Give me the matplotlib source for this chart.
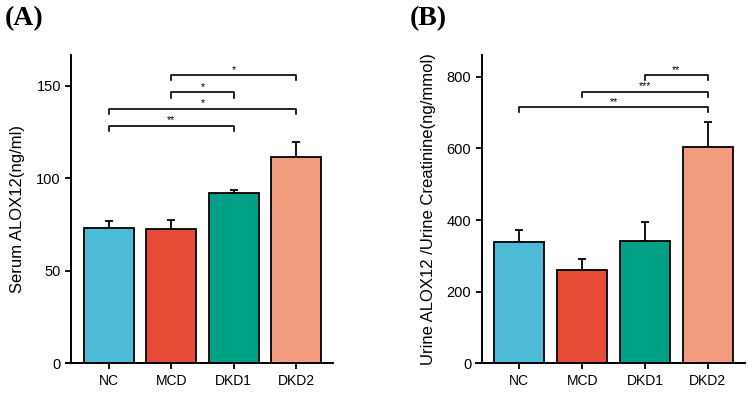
import matplotlib
matplotlib.use("Agg")
import matplotlib.pyplot as plt

groups = ["NC", "MCD", "DKD1", "DKD2"]
colors = ["#4DBBD5", "#E64B35", "#00A087", "#F39B7F"]

serum_mean = [73.3, 72.8, 91.9, 111.7]
serum_err = [3.6, 4.8, 2.1, 8.1]
serum_sig = [((1, 3), 155.8, "*"), ((1, 2), 146.5, "*"), ((0, 3), 137.8, "*"), ((0, 2), 128.5, "**")]

urine_mean = [337.7, 260.0, 340.5, 604.6]
urine_err = [34.0, 31.0, 53.0, 69.0]
urine_sig = [((2, 3), 804.6, "**"), ((1, 3), 758.0, "***"), ((0, 3), 714.4, "**")]

plt.rcParams["font.family"] = ["Liberation Sans", "DejaVu Sans"]

fig = plt.figure(figsize=(7.55, 3.95), dpi=100)


def draw_panel(rect, means, errs, sig, ymax, yticks, ylabel, tip):
    ax = fig.add_axes(rect)
    x = range(len(groups))
    ax.bar(x, means, width=0.8, color=colors, edgecolor="black", linewidth=1.3, zorder=2)
    ax.errorbar(x, means, yerr=[[0] * len(errs), errs], fmt="none", ecolor="black",
                elinewidth=1.3, capsize=3, capthick=1.3, zorder=1)
    for (a, b), h, lab in sig:
        ax.plot([a, a, b, b], [h - tip, h, h, h - tip], color="black", lw=1.2, clip_on=False)
        ax.text((a + b) / 2, h + tip * 0.1, lab, ha="center", va="bottom", fontsize=7.5)
    ax.set_xlim(-0.69, 3.59)
    ax.set_ylim(0, ymax)
    ax.set_yticks(yticks)
    ax.set_xticks(list(x))
    ax.set_xticklabels(groups)
    ax.spines["top"].set_visible(False)
    ax.spines["right"].set_visible(False)
    ax.spines["left"].set_position(("data", -0.6))
    for s in ("left", "bottom"):
        ax.spines[s].set_linewidth(1.4)
    ax.tick_params(direction="out", length=4, width=1.3, labelsize=10.5)
    ax.tick_params(axis="x", labelsize=10)
    ax.set_ylabel(ylabel, fontsize=12, labelpad=8)
    return ax


axA = draw_panel([0.087, 0.080, 0.354, 0.780], serum_mean, serum_err, serum_sig,
                 166.6, [0, 50, 100, 150], "Serum ALOX12(ng/ml)", 2.8)
axB = draw_panel([0.6305, 0.080, 0.356, 0.780], urine_mean, urine_err, urine_sig,
                 860, [0, 200, 400, 600, 800], "Urine ALOX12 /Urine Creatinine(ng/mmol)", 14.0)

fig.text(0.006, 0.952, "(A)", fontsize=20, fontweight="bold", family="Liberation Serif", va="center")
fig.text(0.543, 0.952, "(B)", fontsize=20, fontweight="bold", family="Liberation Serif", va="center")

fig.savefig("out.png", dpi=100)
